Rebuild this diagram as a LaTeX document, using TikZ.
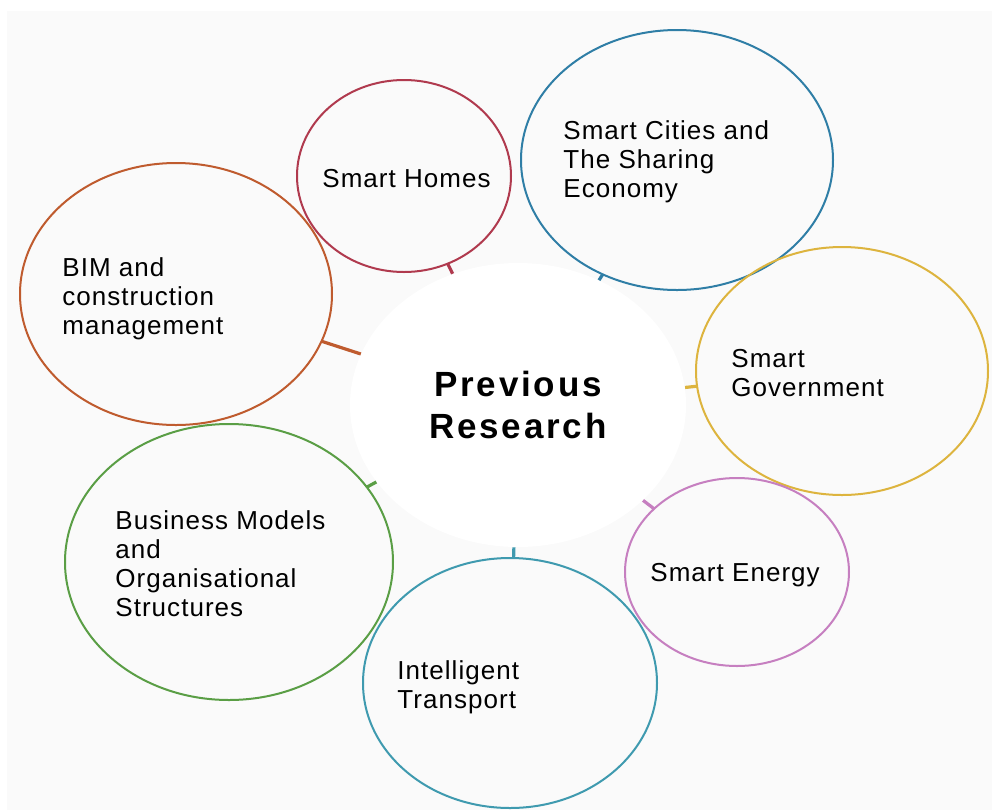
\documentclass[tikz,border=0pt]{standalone}
\usepackage{fontspec}
\usepackage{xcolor}
\usepackage{tikz}
\usetikzlibrary{shapes.geometric}
\newfontfamily\lblfont[LetterSpace=4]{Liberation Sans}
\newfontfamily\headfont[LetterSpace=8]{Liberation Sans}
\definecolor{bg}{HTML}{FAFAFA}
\definecolor{bimc}{HTML}{BF5B2E}
\definecolor{homec}{HTML}{B03A4E}
\definecolor{cityc}{HTML}{2F7EA6}
\definecolor{govc}{HTML}{DDB43E}
\definecolor{enc}{HTML}{C67FC0}
\definecolor{trc}{HTML}{3F9AAF}
\definecolor{busc}{HTML}{5A9E45}
\tikzset{
  bubble/.style={ellipse, draw=#1, line width=1pt, inner sep=0pt, outer sep=0pt},
  stub/.style={draw=#1, line width=1.6pt},
  lbl/.style={anchor=north west, align=left, inner sep=0pt, font=\lblfont\fontsize{13}{14.5}\selectfont},
}

\begin{document}
\begin{tikzpicture}[x=0.5pt, y=-0.5pt]
    \useasboundingbox (0,0) rectangle (992,810);
    \fill[bg] (7,11) rectangle (992,810);
    \node[ellipse, fill=white, inner sep=0pt, minimum width=168pt, minimum height=142pt, align=center,
          font=\headfont\bfseries\fontsize{17.5}{21}\selectfont] (prev) at (518,405) {Previous\\Research};
    \node[bubble=bimc, minimum width=156pt, minimum height=131pt] (bim) at (176,294) {};
    \node[bubble=homec, minimum width=107pt, minimum height=96pt] (homes) at (404,176) {};
    \node[bubble=cityc, minimum width=156pt, minimum height=130pt] (cities) at (677,160) {};
    \node[bubble=govc, minimum width=146pt, minimum height=124pt] (gov) at (842,371) {};
    \node[bubble=enc, minimum width=112pt, minimum height=94pt] (energy) at (737,572) {};
    \node[bubble=trc, minimum width=147pt, minimum height=125pt] (transport) at (510,683) {};
    \node[bubble=busc, minimum width=164pt, minimum height=138pt] (business) at (229,562) {};
    \node[lbl] (bim-txt) at (62,257) {BIM and\\construction\\management};
    \node[lbl] (homes-txt) at (322,169) {Smart Homes};
    \node[lbl] (cities-txt) at (563,120) {Smart Cities and\\The Sharing\\Economy};
    \node[lbl] (gov-txt) at (731,349) {Smart\\Government};
    \node[lbl] (energy-txt) at (650,563) {Smart Energy};
    \node[lbl] (transport-txt) at (397,660) {Intelligent\\Transport};
    \node[lbl] (business-txt) at (115,510) {Business Models\\and\\Organisational\\Structures};
    \draw[stub=bimc] (prev) -- (bim);
    \draw[stub=homec] (prev) -- (homes);
    \draw[stub=cityc] (prev) -- (cities);
    \draw[stub=govc] (prev) -- (gov);
    \draw[stub=enc] (prev) -- (energy);
    \draw[stub=trc] (prev) -- (transport);
    \draw[stub=busc] (prev) -- (business);
  \end{tikzpicture}
\end{document}
